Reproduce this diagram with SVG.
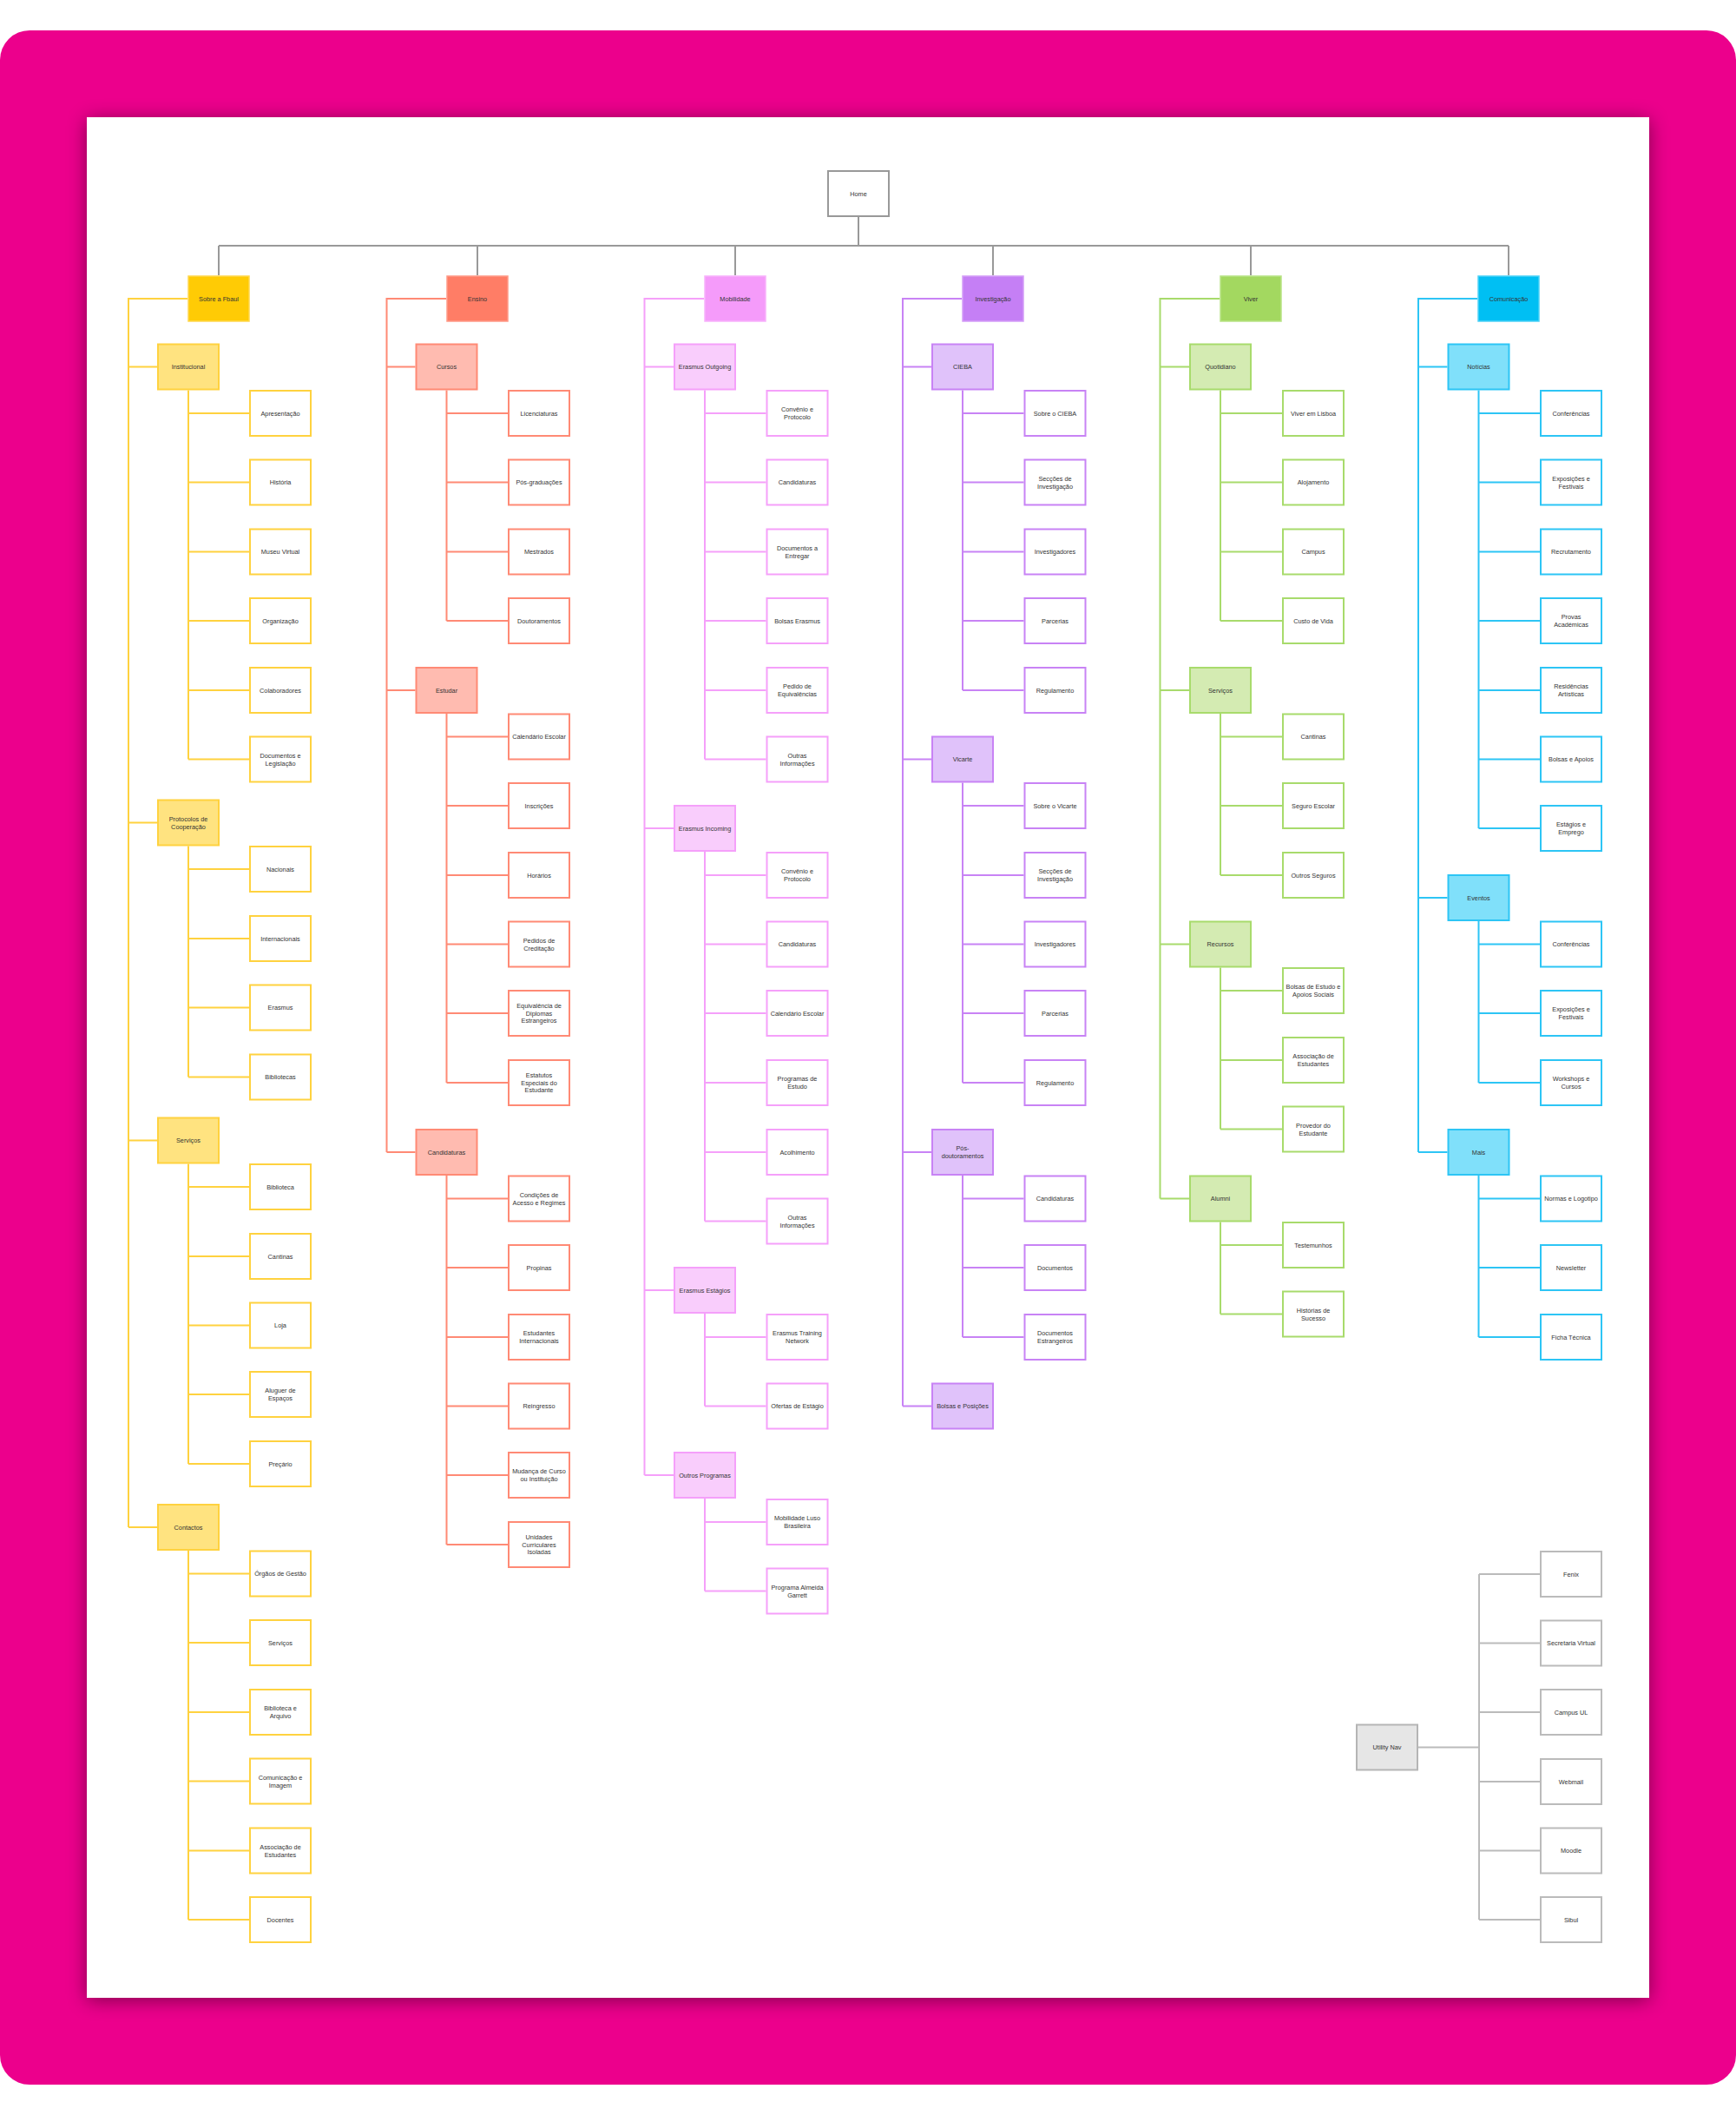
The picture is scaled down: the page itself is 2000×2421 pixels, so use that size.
<svg xmlns="http://www.w3.org/2000/svg" width="2000" height="2421" viewBox="0 0 2000 2421">
<defs>
<filter id="sh" x="-5%" y="-5%" width="110%" height="110%">
<feDropShadow dx="0" dy="3" stdDeviation="11" flood-color="#000" flood-opacity="0.45"/>
</filter>
<style>
.t{font-family:"Liberation Sans",Arial,Helvetica,sans-serif;font-size:7.3px;fill:#333;text-anchor:middle}
.c{fill:none;stroke-width:2}
.b{stroke-width:2}
.w{fill:#fff}
.y{stroke:#FFD23F}.y1{fill:#FFCB05;stroke:#FFD84D}.y2{fill:#FFE380}
.r{stroke:#FF8A75}.r1{fill:#FF7D66;stroke:#FF9A88}.r2{fill:#FFBBB0}
.m{stroke:#F5A0FA}.m1{fill:#F59BFA;stroke:#F7B3FB}.m2{fill:#F9CDFC}
.p{stroke:#C883F5}.p1{fill:#C57FF5;stroke:#D49EF7}.p2{fill:#E0C2FA}
.g{stroke:#A8DB6C}.g1{fill:#A3D860;stroke:#B8E385}.g2{fill:#D4EBB2}
.u{stroke:#2DC5F5}.u1{fill:#00BFF3;stroke:#4DD2F7}.u2{fill:#80E0FA}
.k{stroke:#999}.kl{stroke:#BBB}
</style>
</defs>
<rect x="0" y="35" width="2000" height="2366" rx="34" fill="#EC008C"/>
<rect x="100" y="135" width="1800" height="2166" fill="#fff" filter="url(#sh)"/>

<g id="connectors">
<path class="c k" d="M989 250V283M252 283H1738M252 283V317M550 283V317M847 283V317M1144 283V317M1441 283V317M1738 283V317"/>
<path class="c y" d="M216 344H148V1759M148 422.5H181M148 947.5H181M148 1313.5H181M148 1759H181
M217 449.5V874.5M217 476H287M217 555.5H287M217 635.5H287M217 715H287M217 795H287M217 874.5H287
M217 974.5V1240.5M217 1001H287M217 1081H287M217 1160.5H287M217 1240.5H287
M217 1340.5V1686M217 1367H287M217 1447H287M217 1526.5H287M217 1606H287M217 1686H287
M217 1786V2211M217 1812.5H287M217 1892H287M217 1972H287M217 2051.5H287M217 2131.5H287M217 2211H287"/>
<path class="c r" d="M514 344H445.5V1327M445.5 422.5H478.5M445.5 795H478.5M445.5 1327H478.5
M514.5 449.5V715M514.5 476H585M514.5 555.5H585M514.5 635.5H585M514.5 715H585
M514.5 822V1247M514.5 848.5H585M514.5 928H585M514.5 1008H585M514.5 1087.5H585M514.5 1167H585M514.5 1247H585
M514.5 1354V1779M514.5 1380.5H585M514.5 1460H585M514.5 1540H585M514.5 1619.5H585M514.5 1699H585M514.5 1779H585"/>
<path class="c m" d="M811 344H742.5V1699M742.5 422.5H776M742.5 954H776M742.5 1486H776M742.5 1699H776
M812 449.5V874.5M812 476H882.5M812 555.5H882.5M812 635.5H882.5M812 715H882.5M812 795H882.5M812 874.5H882.5
M812 981V1406.5M812 1008H882.5M812 1087.5H882.5M812 1167H882.5M812 1247H882.5M812 1327H882.5M812 1406.5H882.5
M812 1513V1619.5M812 1540H882.5M812 1619.5H882.5
M812 1726V1832.5M812 1753H882.5M812 1832.5H882.5"/>
<path class="c p" d="M1108 344H1040V1619.5M1040 422.5H1073M1040 874.5H1073M1040 1327H1073M1040 1619.5H1073
M1109 449.5V795M1109 476H1179.5M1109 555.5H1179.5M1109 635.5H1179.5M1109 715H1179.5M1109 795H1179.5
M1109 901.5V1247M1109 928H1179.5M1109 1008H1179.5M1109 1087.5H1179.5M1109 1167H1179.5M1109 1247H1179.5
M1109 1354V1540M1109 1380.5H1179.5M1109 1460H1179.5M1109 1540H1179.5"/>
<path class="c g" d="M1405 344H1336.5V1380.5M1336.5 422.5H1370M1336.5 795H1370M1336.5 1087.5H1370M1336.5 1380.5H1370
M1406 449.5V715M1406 476H1477M1406 555.5H1477M1406 635.5H1477M1406 715H1477
M1406 822V1008M1406 848.5H1477M1406 928H1477M1406 1008H1477
M1406 1114.5V1300.5M1406 1141H1477M1406 1221H1477M1406 1300.5H1477
M1406 1407.5V1513.5M1406 1434H1477M1406 1513.5H1477"/>
<path class="c u" d="M1702 344H1634V1327M1634 422.5H1667.5M1634 1034H1667.5M1634 1327H1667.5
M1703.5 449.5V954M1703.5 476H1774M1703.5 555.5H1774M1703.5 635.5H1774M1703.5 715H1774M1703.5 795H1774M1703.5 874.5H1774M1703.5 954H1774
M1703.5 1061V1247M1703.5 1087.5H1774M1703.5 1167H1774M1703.5 1247H1774
M1703.5 1354V1540M1703.5 1380.5H1774M1703.5 1460H1774M1703.5 1540H1774"/>
<path class="c kl" d="M1634 2012.5H1704M1704 1813V2211M1704 1813H1774M1704 1892.5H1774M1704 1972H1774M1704 2052H1774M1704 2131.5H1774M1704 2211H1774"/>
</g>

<g id="n-home"><rect x="954" y="197" width="70" height="52" fill="#fff" stroke="#999" stroke-width="2"/><text class="t" x="989" y="226">Home</text></g>

<!-- Column 1 -->
<g id="n-sobre"><rect class="y1" x="217" y="318" width="70" height="52" stroke-width="1.5"/><text class="t" x="252" y="346.6">Sobre a Fbaul</text></g>
<g id="n-institucional"><rect class="b y y2" x="182" y="396.5" width="70" height="52"/><text class="t" x="217" y="425.1">Institucional</text></g>
<g id="n-apresentacao"><rect class="b w y" x="288" y="450" width="70" height="52"/><text class="t" x="323" y="478.6">Apresentação</text></g>
<g id="n-historia"><rect class="b w y" x="288" y="529.5" width="70" height="52"/><text class="t" x="323" y="558.1">História</text></g>
<g id="n-museu"><rect class="b w y" x="288" y="609.5" width="70" height="52"/><text class="t" x="323" y="638.1">Museu Virtual</text></g>
<g id="n-organizacao"><rect class="b w y" x="288" y="689" width="70" height="52"/><text class="t" x="323" y="717.6">Organização</text></g>
<g id="n-colaboradores"><rect class="b w y" x="288" y="769" width="70" height="52"/><text class="t" x="323" y="797.6">Colaboradores</text></g>
<g id="n-documentos-leg"><rect class="b w y" x="288" y="848.5" width="70" height="52"/><text class="t" x="323" y="872.7">Documentos e<tspan x="323" dy="8.8">Legislação</tspan></text></g>
<g id="n-protocolos"><rect class="b y y2" x="182" y="921.5" width="70" height="52"/><text class="t" x="217" y="945.7">Protocolos de<tspan x="217" dy="8.8">Cooperação</tspan></text></g>
<g id="n-nacionais"><rect class="b w y" x="288" y="975" width="70" height="52"/><text class="t" x="323" y="1003.6">Nacionais</text></g>
<g id="n-internacionais"><rect class="b w y" x="288" y="1055" width="70" height="52"/><text class="t" x="323" y="1083.6">Internacionais</text></g>
<g id="n-erasmus1"><rect class="b w y" x="288" y="1134.5" width="70" height="52"/><text class="t" x="323" y="1163.1">Erasmus</text></g>
<g id="n-bibliotecas"><rect class="b w y" x="288" y="1214.5" width="70" height="52"/><text class="t" x="323" y="1243.1">Bibliotecas</text></g>
<g id="n-servicos1"><rect class="b y y2" x="182" y="1287.5" width="70" height="52"/><text class="t" x="217" y="1316.1">Serviços</text></g>
<g id="n-biblioteca"><rect class="b w y" x="288" y="1341" width="70" height="52"/><text class="t" x="323" y="1369.6">Biblioteca</text></g>
<g id="n-cantinas1"><rect class="b w y" x="288" y="1421" width="70" height="52"/><text class="t" x="323" y="1449.6">Cantinas</text></g>
<g id="n-loja"><rect class="b w y" x="288" y="1500.5" width="70" height="52"/><text class="t" x="323" y="1529.1">Loja</text></g>
<g id="n-aluguer"><rect class="b w y" x="288" y="1580" width="70" height="52"/><text class="t" x="323" y="1604.2">Aluguer de<tspan x="323" dy="8.8">Espaços</tspan></text></g>
<g id="n-precario"><rect class="b w y" x="288" y="1660" width="70" height="52"/><text class="t" x="323" y="1688.6">Preçário</text></g>
<g id="n-contactos"><rect class="b y y2" x="182" y="1733" width="70" height="52"/><text class="t" x="217" y="1761.6">Contactos</text></g>
<g id="n-orgaos"><rect class="b w y" x="288" y="1786.5" width="70" height="52"/><text class="t" x="323" y="1815.1">Órgãos de Gestão</text></g>
<g id="n-servicos-c"><rect class="b w y" x="288" y="1866" width="70" height="52"/><text class="t" x="323" y="1894.6">Serviços</text></g>
<g id="n-biblioteca-arq"><rect class="b w y" x="288" y="1946" width="70" height="52"/><text class="t" x="323" y="1970.2">Biblioteca e<tspan x="323" dy="8.8">Arquivo</tspan></text></g>
<g id="n-comunicacao-img"><rect class="b w y" x="288" y="2025.5" width="70" height="52"/><text class="t" x="323" y="2049.7">Comunicação e<tspan x="323" dy="8.8">Imagem</tspan></text></g>
<g id="n-assoc1"><rect class="b w y" x="288" y="2105.5" width="70" height="52"/><text class="t" x="323" y="2129.7">Associação de<tspan x="323" dy="8.8">Estudantes</tspan></text></g>
<g id="n-docentes"><rect class="b w y" x="288" y="2185" width="70" height="52"/><text class="t" x="323" y="2213.6">Docentes</text></g>

<!-- Column 2 -->
<g id="n-ensino"><rect class="r1" x="515" y="318" width="70" height="52" stroke-width="1.5"/><text class="t" x="550" y="346.6">Ensino</text></g>
<g id="n-cursos"><rect class="b r r2" x="479.5" y="396.5" width="70" height="52"/><text class="t" x="514.5" y="425.1">Cursos</text></g>
<g id="n-licenciaturas"><rect class="b w r" x="586" y="450" width="70" height="52"/><text class="t" x="621" y="478.6">Licenciaturas</text></g>
<g id="n-posgrad"><rect class="b w r" x="586" y="529.5" width="70" height="52"/><text class="t" x="621" y="558.1">Pós-graduações</text></g>
<g id="n-mestrados"><rect class="b w r" x="586" y="609.5" width="70" height="52"/><text class="t" x="621" y="638.1">Mestrados</text></g>
<g id="n-doutoramentos"><rect class="b w r" x="586" y="689" width="70" height="52"/><text class="t" x="621" y="717.6">Doutoramentos</text></g>
<g id="n-estudar"><rect class="b r r2" x="479.5" y="769" width="70" height="52"/><text class="t" x="514.5" y="797.6">Estudar</text></g>
<g id="n-calendario1"><rect class="b w r" x="586" y="822.5" width="70" height="52"/><text class="t" x="621" y="851.1">Calendário Escolar</text></g>
<g id="n-inscricoes"><rect class="b w r" x="586" y="902" width="70" height="52"/><text class="t" x="621" y="930.6">Inscrições</text></g>
<g id="n-horarios"><rect class="b w r" x="586" y="982" width="70" height="52"/><text class="t" x="621" y="1010.6">Horários</text></g>
<g id="n-creditacao"><rect class="b w r" x="586" y="1061.5" width="70" height="52"/><text class="t" x="621" y="1085.7">Pedidos de<tspan x="621" dy="8.8">Creditação</tspan></text></g>
<g id="n-equivalencia"><rect class="b w r" x="586" y="1141" width="70" height="52"/><text class="t" x="621" y="1160.8">Equivalência de<tspan x="621" dy="8.8">Diplomas</tspan><tspan x="621" dy="8.8">Estrangeiros</tspan></text></g>
<g id="n-estatutos"><rect class="b w r" x="586" y="1221" width="70" height="52"/><text class="t" x="621" y="1240.8">Estatutos<tspan x="621" dy="8.8">Especiais do</tspan><tspan x="621" dy="8.8">Estudante</tspan></text></g>
<g id="n-candidaturas-e"><rect class="b r r2" x="479.5" y="1301" width="70" height="52"/><text class="t" x="514.5" y="1329.6">Candidaturas</text></g>
<g id="n-condicoes"><rect class="b w r" x="586" y="1354.5" width="70" height="52"/><text class="t" x="621" y="1378.7">Condições de<tspan x="621" dy="8.8">Acesso e Regimes</tspan></text></g>
<g id="n-propinas"><rect class="b w r" x="586" y="1434" width="70" height="52"/><text class="t" x="621" y="1462.6">Propinas</text></g>
<g id="n-estud-int"><rect class="b w r" x="586" y="1514" width="70" height="52"/><text class="t" x="621" y="1538.2">Estudantes<tspan x="621" dy="8.8">Internacionais</tspan></text></g>
<g id="n-reingresso"><rect class="b w r" x="586" y="1593.5" width="70" height="52"/><text class="t" x="621" y="1622.1">Reingresso</text></g>
<g id="n-mudanca"><rect class="b w r" x="586" y="1673" width="70" height="52"/><text class="t" x="621" y="1697.2">Mudança de Curso<tspan x="621" dy="8.8">ou Instituição</tspan></text></g>
<g id="n-unidades"><rect class="b w r" x="586" y="1753" width="70" height="52"/><text class="t" x="621" y="1772.8">Unidades<tspan x="621" dy="8.8">Curriculares</tspan><tspan x="621" dy="8.8">Isoladas</tspan></text></g>

<!-- Column 3 -->
<g id="n-mobilidade"><rect class="m1" x="812" y="318" width="70" height="52" stroke-width="1.5"/><text class="t" x="847" y="346.6">Mobilidade</text></g>
<g id="n-outgoing"><rect class="b m m2" x="777" y="396.5" width="70" height="52"/><text class="t" x="812" y="425.1">Erasmus Outgoing</text></g>
<g id="n-convenio1"><rect class="b w m" x="883.5" y="450" width="70" height="52"/><text class="t" x="918.5" y="474.2">Convênio e<tspan x="918.5" dy="8.8">Protocolo</tspan></text></g>
<g id="n-cand-out"><rect class="b w m" x="883.5" y="529.5" width="70" height="52"/><text class="t" x="918.5" y="558.1">Candidaturas</text></g>
<g id="n-docs-entregar"><rect class="b w m" x="883.5" y="609.5" width="70" height="52"/><text class="t" x="918.5" y="633.7">Documentos a<tspan x="918.5" dy="8.8">Entregar</tspan></text></g>
<g id="n-bolsas-erasmus"><rect class="b w m" x="883.5" y="689" width="70" height="52"/><text class="t" x="918.5" y="717.6">Bolsas Erasmus</text></g>
<g id="n-pedido-equiv"><rect class="b w m" x="883.5" y="769" width="70" height="52"/><text class="t" x="918.5" y="793.2">Pedido de<tspan x="918.5" dy="8.8">Equivalências</tspan></text></g>
<g id="n-outras1"><rect class="b w m" x="883.5" y="848.5" width="70" height="52"/><text class="t" x="918.5" y="872.7">Outras<tspan x="918.5" dy="8.8">Informações</tspan></text></g>
<g id="n-incoming"><rect class="b m m2" x="777" y="928" width="70" height="52"/><text class="t" x="812" y="956.6">Erasmus Incoming</text></g>
<g id="n-convenio2"><rect class="b w m" x="883.5" y="982" width="70" height="52"/><text class="t" x="918.5" y="1006.2">Convênio e<tspan x="918.5" dy="8.8">Protocolo</tspan></text></g>
<g id="n-cand-in"><rect class="b w m" x="883.5" y="1061.5" width="70" height="52"/><text class="t" x="918.5" y="1090.1">Candidaturas</text></g>
<g id="n-calendario2"><rect class="b w m" x="883.5" y="1141" width="70" height="52"/><text class="t" x="918.5" y="1169.6">Calendário Escolar</text></g>
<g id="n-programas"><rect class="b w m" x="883.5" y="1221" width="70" height="52"/><text class="t" x="918.5" y="1245.2">Programas de<tspan x="918.5" dy="8.8">Estudo</tspan></text></g>
<g id="n-acolhimento"><rect class="b w m" x="883.5" y="1301" width="70" height="52"/><text class="t" x="918.5" y="1329.6">Acolhimento</text></g>
<g id="n-outras2"><rect class="b w m" x="883.5" y="1380.5" width="70" height="52"/><text class="t" x="918.5" y="1404.7">Outras<tspan x="918.5" dy="8.8">Informações</tspan></text></g>
<g id="n-estagios"><rect class="b m m2" x="777" y="1460" width="70" height="52"/><text class="t" x="812" y="1488.6">Erasmus Estágios</text></g>
<g id="n-training"><rect class="b w m" x="883.5" y="1514" width="70" height="52"/><text class="t" x="918.5" y="1538.2">Erasmus Training<tspan x="918.5" dy="8.8">Network</tspan></text></g>
<g id="n-ofertas"><rect class="b w m" x="883.5" y="1593.5" width="70" height="52"/><text class="t" x="918.5" y="1622.1">Ofertas de Estágio</text></g>
<g id="n-outros-prog"><rect class="b m m2" x="777" y="1673" width="70" height="52"/><text class="t" x="812" y="1701.6">Outros Programas</text></g>
<g id="n-luso"><rect class="b w m" x="883.5" y="1727" width="70" height="52"/><text class="t" x="918.5" y="1751.2">Mobilidade Luso<tspan x="918.5" dy="8.8">Brasileira</tspan></text></g>
<g id="n-garrett"><rect class="b w m" x="883.5" y="1806.5" width="70" height="52"/><text class="t" x="918.5" y="1830.7">Programa Almeida<tspan x="918.5" dy="8.8">Garrett</tspan></text></g>

<!-- Column 4 -->
<g id="n-investigacao"><rect class="p1" x="1109" y="318" width="70" height="52" stroke-width="1.5"/><text class="t" x="1144" y="346.6">Investigação</text></g>
<g id="n-cieba"><rect class="b p p2" x="1074" y="396.5" width="70" height="52"/><text class="t" x="1109" y="425.1">CIEBA</text></g>
<g id="n-sobre-cieba"><rect class="b w p" x="1180.5" y="450" width="70" height="52"/><text class="t" x="1215.5" y="478.6">Sobre o CIEBA</text></g>
<g id="n-seccoes1"><rect class="b w p" x="1180.5" y="529.5" width="70" height="52"/><text class="t" x="1215.5" y="553.7">Secções de<tspan x="1215.5" dy="8.8">Investigação</tspan></text></g>
<g id="n-investigadores1"><rect class="b w p" x="1180.5" y="609.5" width="70" height="52"/><text class="t" x="1215.5" y="638.1">Investigadores</text></g>
<g id="n-parcerias1"><rect class="b w p" x="1180.5" y="689" width="70" height="52"/><text class="t" x="1215.5" y="717.6">Parcerias</text></g>
<g id="n-regulamento1"><rect class="b w p" x="1180.5" y="769" width="70" height="52"/><text class="t" x="1215.5" y="797.6">Regulamento</text></g>
<g id="n-vicarte"><rect class="b p p2" x="1074" y="848.5" width="70" height="52"/><text class="t" x="1109" y="877.1">Vicarte</text></g>
<g id="n-sobre-vicarte"><rect class="b w p" x="1180.5" y="902" width="70" height="52"/><text class="t" x="1215.5" y="930.6">Sobre o Vicarte</text></g>
<g id="n-seccoes2"><rect class="b w p" x="1180.5" y="982" width="70" height="52"/><text class="t" x="1215.5" y="1006.2">Secções de<tspan x="1215.5" dy="8.8">Investigação</tspan></text></g>
<g id="n-investigadores2"><rect class="b w p" x="1180.5" y="1061.5" width="70" height="52"/><text class="t" x="1215.5" y="1090.1">Investigadores</text></g>
<g id="n-parcerias2"><rect class="b w p" x="1180.5" y="1141" width="70" height="52"/><text class="t" x="1215.5" y="1169.6">Parcerias</text></g>
<g id="n-regulamento2"><rect class="b w p" x="1180.5" y="1221" width="70" height="52"/><text class="t" x="1215.5" y="1249.6">Regulamento</text></g>
<g id="n-posdoc"><rect class="b p p2" x="1074" y="1301" width="70" height="52"/><text class="t" x="1109" y="1325.2">Pós-<tspan x="1109" dy="8.8">doutoramentos</tspan></text></g>
<g id="n-cand-pd"><rect class="b w p" x="1180.5" y="1354.5" width="70" height="52"/><text class="t" x="1215.5" y="1383.1">Candidaturas</text></g>
<g id="n-documentos-pd"><rect class="b w p" x="1180.5" y="1434" width="70" height="52"/><text class="t" x="1215.5" y="1462.6">Documentos</text></g>
<g id="n-docs-estr"><rect class="b w p" x="1180.5" y="1514" width="70" height="52"/><text class="t" x="1215.5" y="1538.2">Documentos<tspan x="1215.5" dy="8.8">Estrangeiros</tspan></text></g>
<g id="n-bolsas-posicoes"><rect class="b p p2" x="1074" y="1593.5" width="70" height="52"/><text class="t" x="1109" y="1622.1">Bolsas e Posições</text></g>

<!-- Column 5 -->
<g id="n-viver"><rect class="g1" x="1406" y="318" width="70" height="52" stroke-width="1.5"/><text class="t" x="1441" y="346.6">Viver</text></g>
<g id="n-quotidiano"><rect class="b g g2" x="1371" y="396.5" width="70" height="52"/><text class="t" x="1406" y="425.1">Quotidiano</text></g>
<g id="n-lisboa"><rect class="b w g" x="1478" y="450" width="70" height="52"/><text class="t" x="1513" y="478.6">Viver em Lisboa</text></g>
<g id="n-alojamento"><rect class="b w g" x="1478" y="529.5" width="70" height="52"/><text class="t" x="1513" y="558.1">Alojamento</text></g>
<g id="n-campus"><rect class="b w g" x="1478" y="609.5" width="70" height="52"/><text class="t" x="1513" y="638.1">Campus</text></g>
<g id="n-custo"><rect class="b w g" x="1478" y="689" width="70" height="52"/><text class="t" x="1513" y="717.6">Custo de Vida</text></g>
<g id="n-servicos2"><rect class="b g g2" x="1371" y="769" width="70" height="52"/><text class="t" x="1406" y="797.6">Serviços</text></g>
<g id="n-cantinas2"><rect class="b w g" x="1478" y="822.5" width="70" height="52"/><text class="t" x="1513" y="851.1">Cantinas</text></g>
<g id="n-seguro"><rect class="b w g" x="1478" y="902" width="70" height="52"/><text class="t" x="1513" y="930.6">Seguro Escolar</text></g>
<g id="n-outros-seguros"><rect class="b w g" x="1478" y="982" width="70" height="52"/><text class="t" x="1513" y="1010.6">Outros Seguros</text></g>
<g id="n-recursos"><rect class="b g g2" x="1371" y="1061.5" width="70" height="52"/><text class="t" x="1406" y="1090.1">Recursos</text></g>
<g id="n-bolsas-estudo"><rect class="b w g" x="1478" y="1115" width="70" height="52"/><text class="t" x="1513" y="1139.2">Bolsas de Estudo e<tspan x="1513" dy="8.8">Apoios Sociais</tspan></text></g>
<g id="n-assoc2"><rect class="b w g" x="1478" y="1195" width="70" height="52"/><text class="t" x="1513" y="1219.2">Associação de<tspan x="1513" dy="8.8">Estudantes</tspan></text></g>
<g id="n-provedor"><rect class="b w g" x="1478" y="1274.5" width="70" height="52"/><text class="t" x="1513" y="1298.7">Provedor do<tspan x="1513" dy="8.8">Estudante</tspan></text></g>
<g id="n-alumni"><rect class="b g g2" x="1371" y="1354.5" width="70" height="52"/><text class="t" x="1406" y="1383.1">Alumni</text></g>
<g id="n-testemunhos"><rect class="b w g" x="1478" y="1408" width="70" height="52"/><text class="t" x="1513" y="1436.6">Testemunhos</text></g>
<g id="n-historias"><rect class="b w g" x="1478" y="1487.5" width="70" height="52"/><text class="t" x="1513" y="1511.7">Histórias de<tspan x="1513" dy="8.8">Sucesso</tspan></text></g>

<!-- Column 6 -->
<g id="n-comunicacao"><rect class="u1" x="1703" y="318" width="70" height="52" stroke-width="1.5"/><text class="t" x="1738" y="346.6">Comunicação</text></g>
<g id="n-noticias"><rect class="b u u2" x="1668.5" y="396.5" width="70" height="52"/><text class="t" x="1703.5" y="425.1">Notícias</text></g>
<g id="n-conf1"><rect class="b w u" x="1775" y="450" width="70" height="52"/><text class="t" x="1810" y="478.6">Conferências</text></g>
<g id="n-expo1"><rect class="b w u" x="1775" y="529.5" width="70" height="52"/><text class="t" x="1810" y="553.7">Exposições e<tspan x="1810" dy="8.8">Festivais</tspan></text></g>
<g id="n-recrutamento"><rect class="b w u" x="1775" y="609.5" width="70" height="52"/><text class="t" x="1810" y="638.1">Recrutamento</text></g>
<g id="n-provas"><rect class="b w u" x="1775" y="689" width="70" height="52"/><text class="t" x="1810" y="713.2">Provas<tspan x="1810" dy="8.8">Académicas</tspan></text></g>
<g id="n-residencias"><rect class="b w u" x="1775" y="769" width="70" height="52"/><text class="t" x="1810" y="793.2">Residências<tspan x="1810" dy="8.8">Artísticas</tspan></text></g>
<g id="n-bolsas-apoios"><rect class="b w u" x="1775" y="848.5" width="70" height="52"/><text class="t" x="1810" y="877.1">Bolsas e Apoios</text></g>
<g id="n-estagios-emprego"><rect class="b w u" x="1775" y="928" width="70" height="52"/><text class="t" x="1810" y="952.2">Estágios e<tspan x="1810" dy="8.8">Emprego</tspan></text></g>
<g id="n-eventos"><rect class="b u u2" x="1668.5" y="1008" width="70" height="52"/><text class="t" x="1703.5" y="1036.6">Eventos</text></g>
<g id="n-conf2"><rect class="b w u" x="1775" y="1061.5" width="70" height="52"/><text class="t" x="1810" y="1090.1">Conferências</text></g>
<g id="n-expo2"><rect class="b w u" x="1775" y="1141" width="70" height="52"/><text class="t" x="1810" y="1165.2">Exposições e<tspan x="1810" dy="8.8">Festivais</tspan></text></g>
<g id="n-workshops"><rect class="b w u" x="1775" y="1221" width="70" height="52"/><text class="t" x="1810" y="1245.2">Workshops e<tspan x="1810" dy="8.8">Cursos</tspan></text></g>
<g id="n-mais"><rect class="b u u2" x="1668.5" y="1301" width="70" height="52"/><text class="t" x="1703.5" y="1329.6">Mais</text></g>
<g id="n-normas"><rect class="b w u" x="1775" y="1354.5" width="70" height="52"/><text class="t" x="1810" y="1383.1">Normas e Logotipo</text></g>
<g id="n-newsletter"><rect class="b w u" x="1775" y="1434" width="70" height="52"/><text class="t" x="1810" y="1462.6">Newsletter</text></g>
<g id="n-ficha"><rect class="b w u" x="1775" y="1514" width="70" height="52"/><text class="t" x="1810" y="1542.6">Ficha Técnica</text></g>

<!-- Utility Nav -->
<g id="n-utility"><rect x="1563" y="1986.5" width="70" height="52" fill="#E6E6E6" stroke="#B5B5B5" stroke-width="2"/><text class="t" x="1598" y="2015.1">Utility Nav</text></g>
<g id="n-fenix"><rect class="b w kl" x="1775" y="1787" width="70" height="52"/><text class="t" x="1810" y="1815.6">Fenix</text></g>
<g id="n-secretaria"><rect class="b w kl" x="1775" y="1866.5" width="70" height="52"/><text class="t" x="1810" y="1895.1">Secretaria Virtual</text></g>
<g id="n-campusul"><rect class="b w kl" x="1775" y="1946" width="70" height="52"/><text class="t" x="1810" y="1974.6">Campus UL</text></g>
<g id="n-webmail"><rect class="b w kl" x="1775" y="2026" width="70" height="52"/><text class="t" x="1810" y="2054.6">Webmail</text></g>
<g id="n-moodle"><rect class="b w kl" x="1775" y="2105.5" width="70" height="52"/><text class="t" x="1810" y="2134.1">Moodle</text></g>
<g id="n-sibul"><rect class="b w kl" x="1775" y="2185" width="70" height="52"/><text class="t" x="1810" y="2213.6">Sibul</text></g>
</svg>
